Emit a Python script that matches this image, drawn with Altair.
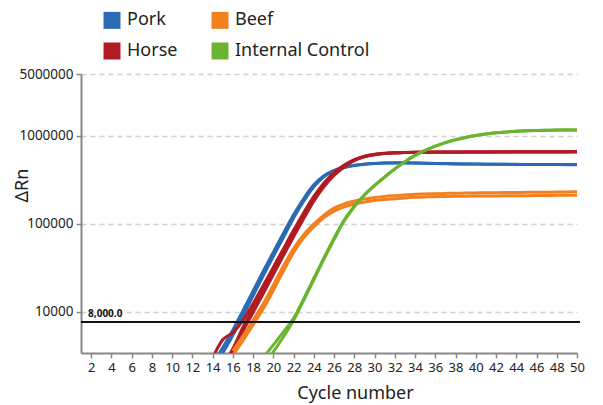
import altair as alt
import pandas as pd

# ---------------- data ----------------
series_names = ["Pork", "Horse", "Beef", "Internal Control"]
series_colors = ["#2a6bb3", "#b11b24", "#f2801f", "#6ab42e"]

# each replicate: first cycle, then ΔRn at consecutive cycles
pork_a_start = 14
pork_a = [2300, 3400, 5400, 9000, 15200, 25500, 42500, 70000, 116000, 180000,
          262000, 340000, 396000, 433000, 457000, 473000, 483000, 488000, 490000, 490000,
          488000, 486000, 483000, 481000, 479000, 477000, 475000, 474000, 473000, 472000,
          471000, 470000, 470000, 469000, 469000, 468000, 468000]
pork_b_start = 14
pork_b = [2600, 3900, 6200, 10300, 17200, 28800, 47500, 78000, 126000, 193000,
          276000, 350000, 402000, 437000, 459000, 474000, 483000, 488000, 489000, 489000,
          487000, 484000, 481000, 479000, 477000, 475000, 474000, 473000, 472000, 471000,
          470000, 469000, 469000, 468000, 468000, 467000, 467000]

horse_a_start = 14
horse_a = [3000, 4800, 5800, 8000, 12400, 19800, 32000, 52000, 84000, 133000,
           204000, 290000, 380000, 462000, 533000, 582000, 612000, 629000, 639000, 644000,
           647000, 649000, 650000, 651000, 651000, 652000, 652000, 652000, 653000, 653000,
           653000, 654000, 654000, 654000, 655000, 655000, 655000]
horse_b_start = 15
horse_b = [2500, 3800, 6700, 11000, 18000, 29500, 48000, 78000, 123000, 191000,
           274000, 364000, 450000, 526000, 578000, 609000, 627000, 637000, 643000, 646000,
           648000, 649000, 650000, 650000, 651000, 651000, 652000, 652000, 652000, 653000,
           653000, 653000, 654000, 654000, 654000, 655000]
horse_c_start = 15
horse_c = [2200, 3400, 6000, 9800, 16000, 26500, 43500, 71000, 114000, 180000,
           262000, 352000, 440000, 518000, 572000, 606000, 625000, 635000, 641000, 644000,
           646000, 647000, 648000, 648000, 649000, 649000, 650000, 650000, 650000, 651000,
           651000, 651000, 652000, 652000, 652000, 653000]

beef_a_start = 16
beef_a = [3200, 4700, 7100, 10800, 17500, 29000, 47000, 69000, 92000, 117000,
          139000, 155000, 167000, 176000, 183000, 188000, 192000, 196000, 199000, 201000,
          202500, 203500, 204500, 205000, 205500, 206000, 206500, 207000, 207500, 208000,
          208500, 209000, 209500, 210000, 210500]
beef_b_start = 16
beef_b = [3600, 5300, 8000, 12300, 20000, 33000, 52000, 75000, 99000, 125000,
          150000, 168000, 181000, 191000, 198000, 204000, 208000, 212000, 215000, 217000,
          219000, 220500, 221500, 222500, 223500, 224500, 225000, 225500, 226000, 226500,
          227000, 227500, 228000, 229000, 230000]

ic_a_start = 19
ic_a = [2400, 3500, 5200, 8000, 13500, 23000, 39500, 66000, 107000, 155000,
        210000, 270000, 338000, 418000, 505000, 595000, 678000, 758000, 832000, 895000,
        950000, 1000000, 1040000, 1075000, 1100000, 1120000, 1135000, 1145000, 1150000, 1155000,
        1160000, 1160000]
ic_b_start = 19
ic_b = [3000, 4200, 5900, 8400, 14000, 24000, 41000, 68500, 110000, 158000,
        213000, 272000, 340000, 419000, 506000, 596000, 678000, 758000, 832000, 895000,
        950000, 1000000, 1040000, 1075000, 1100000, 1120000, 1135000, 1145000, 1150000, 1155000,
        1160000, 1160000]

x_ticks = list(range(2, 51, 2))
y_ticks = [10000, 100000, 1000000, 5000000]
threshold_value = [7650]
threshold_label = ["8,000.0"]

# ---------------- build table ----------------
groups = [
    ("Pork", [(pork_a_start, pork_a), (pork_b_start, pork_b)]),
    ("Horse", [(horse_a_start, horse_a), (horse_b_start, horse_b), (horse_c_start, horse_c)]),
    ("Beef", [(beef_a_start, beef_a), (beef_b_start, beef_b)]),
    ("Internal Control", [(ic_a_start, ic_a), (ic_b_start, ic_b)]),
]
rows = []
for name, reps in groups:
    for k, (start, vals) in enumerate(reps):
        for i, v in enumerate(vals):
            rows.append({"cycle": start + i, "drn": v, "series": name, "rep": f"{name}-{k}"})
df = pd.DataFrame(rows)

thr_df = pd.DataFrame({"cycle": [1], "x2": [50.3], "drn": threshold_value,
                       "lx": [1.7], "label": threshold_label})

FONT = "Noto Sans"

xscale = alt.Scale(domain=[1, 50], nice=False, zero=False)
yscale = alt.Scale(type="log", domain=[3400, 5000000], nice=False)

x_axis = alt.Axis(values=x_ticks, title="Cycle number", grid=False, labelOverlap=False,
                  labelFlush=False,
                  titleX=274, titleY=40, titleAlign="center", titleBaseline="middle",
                  titleFontSize=18, titleFontWeight="normal", titleColor="#222",
                  titleFont=FONT, labelFont=FONT, labelFontSize=13, labelColor="#222",
                  labelPadding=3, tickSize=5, tickColor="#888", tickWidth=1.5,
                  domainColor="#888", domainWidth=2)
y_axis = alt.Axis(values=y_ticks, format="d", title="ΔRn", grid=True, labelOverlap=False,
                  gridColor="#d0d0d0", gridDash=[5, 4], gridWidth=1.5,
                  titleX=-59, titleY=111, titleAngle=-90, titleAlign="center",
                  titleBaseline="middle", titleFontSize=18, titleFontWeight="normal",
                  titleColor="#222", titleFont=FONT, labelFont=FONT,
                  labelFontSize=13.5, labelColor="#222", labelPadding=3,
                  tickSize=5, tickColor="#888", tickWidth=1.5,
                  domainColor="#888", domainWidth=2)

lines = alt.Chart(df).mark_line(clip=True, strokeWidth=3, interpolate="monotone").encode(
    x=alt.X("cycle:Q", scale=xscale, axis=x_axis),
    y=alt.Y("drn:Q", scale=yscale, axis=y_axis),
    color=alt.Color("series:N", scale=alt.Scale(domain=series_names, range=series_colors),
                    legend=alt.Legend(orient="none", legendX=22, legendY=-63, columns=2,
                                      title=None, symbolType="square", symbolSize=72,
                                      symbolStrokeWidth=8.5, labelFontSize=18, labelFont=FONT,
                                      labelColor="#222", labelOffset=6, columnPadding=20,
                                      rowPadding=-25, labelLimit=300)),
    detail="rep:N",
)

rule = alt.Chart(thr_df).mark_rule(color="#111", strokeWidth=2).encode(
    x=alt.X("cycle:Q", scale=xscale, axis=x_axis), x2="x2:Q",
    y=alt.Y("drn:Q", scale=yscale, axis=y_axis))

label = alt.Chart(thr_df).mark_text(align="left", baseline="bottom", dy=-3, fontSize=10,
                                    fontWeight="bold", font=FONT, color="#111").encode(
    x=alt.X("lx:Q", scale=xscale, axis=x_axis), y=alt.Y("drn:Q", scale=yscale, axis=y_axis),
    text="label:N")

chart = alt.layer(lines, rule, label).properties(
    width=496, height=279,
    autosize=alt.AutoSizeParams(type="none"),
    padding={"left": 73, "top": 66, "right": 18, "bottom": 52},
).configure_view(stroke=None)

chart.save("out.html", embed_options={"renderer": "svg", "actions": False})
